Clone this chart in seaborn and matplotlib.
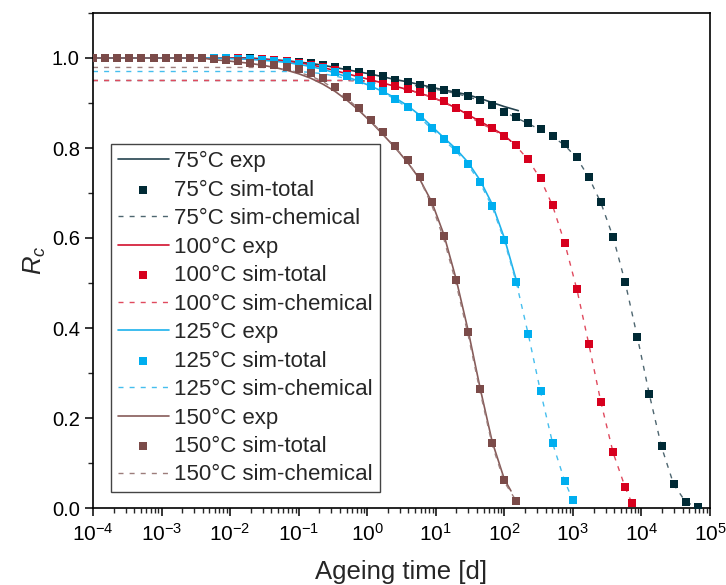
import numpy as np
import pandas as pd
import matplotlib
matplotlib.use("Agg")
import matplotlib.pyplot as plt
from matplotlib.ticker import MultipleLocator, FormatStrFormatter, LogLocator, NullFormatter
import seaborn as sns

# ---- ageing-time grid shared by the simulations [d] ----
t_grid = [1.00e-4, 1.50e-4, 2.25e-4, 3.38e-4, 5.08e-4, 7.63e-4,
          1.15e-3, 1.72e-3, 2.58e-3, 3.88e-3, 5.82e-3, 8.74e-3,
          1.31e-2, 1.97e-2, 2.96e-2, 4.44e-2, 6.66e-2,
          0.100, 0.150, 0.225, 0.338, 0.508, 0.763,
          1.15, 1.72, 2.58, 3.88, 5.82, 8.74,
          13.1, 19.7, 29.6, 44.4, 66.6,
          100, 150, 225, 338, 508, 763,
          1150, 1720, 2580, 3880, 5820, 8740,
          13100, 19700, 29600, 44400, 66600]

# ---- 75 °C ----
exp_75 = [1.000] * 14 + [0.998, 0.996, 0.994, 0.991, 0.988, 0.984, 0.979, 0.974, 0.969, 0.964,
                         0.958, 0.952, 0.947, 0.941, 0.935, 0.929, 0.924, 0.918, 0.910, 0.901, 0.892]
exp_75_end = (160, 0.883)
total_75 = [1.000] * 14 + [0.998, 0.996, 0.994, 0.991, 0.988, 0.984, 0.980, 0.973, 0.969, 0.964,
                           0.959, 0.951, 0.947, 0.941, 0.934, 0.929, 0.923, 0.916, 0.907, 0.895,
                           0.881, 0.868, 0.855, 0.842, 0.827, 0.808, 0.779, 0.736, 0.679, 0.603,
                           0.502, 0.381, 0.253, 0.137, 0.053, 0.013, 0.002]
chem_75 = [0.950] * 23 + [0.949, 0.947, 0.944, 0.941, 0.937, 0.932, 0.927, 0.921, 0.914, 0.905,
                          0.894, 0.880, 0.867, 0.854, 0.840, 0.825, 0.806, 0.777, 0.734, 0.677,
                          0.601, 0.500, 0.379, 0.251, 0.135, 0.052, 0.013, 0.002]

# ---- 100 °C ----
exp_100 = [1.000] * 13 + [0.998, 0.997, 0.995, 0.993, 0.990, 0.985, 0.979, 0.972, 0.965, 0.958,
                          0.951, 0.944, 0.937, 0.930, 0.922, 0.913, 0.902, 0.889, 0.874, 0.859,
                          0.844, 0.828]
exp_100_end = (125, 0.815)
total_100 = [1.000] * 13 + [0.998, 0.997, 0.995, 0.993, 0.990, 0.985, 0.980, 0.973, 0.965, 0.958,
                            0.951, 0.943, 0.937, 0.931, 0.924, 0.915, 0.904, 0.889, 0.874, 0.857,
                            0.844, 0.827, 0.806, 0.775, 0.733, 0.673, 0.590, 0.486, 0.364, 0.235,
                            0.124, 0.046]
total_100_end = (7200, 0.012)
chem_100 = [0.950] * 22 + [0.949, 0.946, 0.941, 0.935, 0.929, 0.922, 0.913, 0.902, 0.887, 0.872,
                           0.855, 0.842, 0.825, 0.804, 0.773, 0.731, 0.671, 0.588, 0.484, 0.362,
                           0.233, 0.122, 0.045]
chem_100_end = (7200, 0.012)

# ---- 125 °C ----
exp_125 = [1.000] * 11 + [0.999, 0.998, 0.997, 0.995, 0.993, 0.990, 0.986, 0.981, 0.975, 0.967,
                          0.958, 0.948, 0.937, 0.925, 0.911, 0.894, 0.873, 0.848, 0.823, 0.798,
                          0.768, 0.728, 0.675, 0.600]
exp_125_end = (160, 0.490)
total_125 = [1.000] * 11 + [0.999, 0.998, 0.997, 0.996, 0.993, 0.991, 0.987, 0.983, 0.977, 0.970,
                            0.960, 0.951, 0.938, 0.926, 0.910, 0.891, 0.870, 0.844, 0.820, 0.795,
                            0.765, 0.724, 0.671, 0.596, 0.502, 0.386, 0.260, 0.145, 0.060]
total_125_end = (1000, 0.018)
chem_125 = [0.970] * 18 + [0.968, 0.965, 0.960, 0.954, 0.946, 0.935, 0.923, 0.908, 0.889, 0.868,
                           0.842, 0.818, 0.793, 0.763, 0.722, 0.669, 0.594, 0.500, 0.384, 0.258,
                           0.143, 0.059]
chem_125_end = (1000, 0.017)

# ---- 150 °C ----
exp_150 = [1.000] * 10 + [0.996, 0.994, 0.991, 0.988, 0.984, 0.979, 0.973, 0.965, 0.955, 0.942,
                          0.926, 0.906, 0.883, 0.857, 0.829, 0.800, 0.768, 0.731, 0.680, 0.608,
                          0.510, 0.395, 0.266, 0.147, 0.064]
exp_150_end = (125, 0.038)
total_150 = [1.000] * 10 + [0.997, 0.995, 0.993, 0.990, 0.987, 0.984, 0.981, 0.976, 0.967, 0.955,
                            0.935, 0.914, 0.890, 0.862, 0.835, 0.805, 0.773, 0.736, 0.679, 0.605,
                            0.507, 0.392, 0.264, 0.145, 0.062, 0.016]
chem_150 = [0.979] * 15 + [0.977, 0.973, 0.968, 0.960, 0.948, 0.930, 0.910, 0.886, 0.858, 0.831,
                           0.801, 0.769, 0.731, 0.673, 0.598, 0.500, 0.385, 0.258, 0.140, 0.058,
                           0.015]

temperatures = ["75°C", "100°C", "125°C", "150°C"]
marker_colors = ["#002A35", "#D7001E", "#00AEEF", "#7B4B49"]
exp_colors = ["#25434F", "#D2102E", "#1DB2EC", "#865B59"]
chem_colors = ["#4E6670", "#E04A5E", "#45BEEE", "#9C7D7B"]


def series(values, end=None):
    t = list(t_grid[:len(values)])
    v = list(values)
    if end is not None:
        t.append(end[0])
        v.append(end[1])
    return pd.DataFrame({"t": t, "Rc": v})


exp_sets = [series(exp_75, exp_75_end), series(exp_100, exp_100_end),
            series(exp_125, exp_125_end), series(exp_150, exp_150_end)]
total_sets = [series(total_75), series(total_100, total_100_end),
              series(total_125, total_125_end), series(total_150)]
chem_sets = [series(chem_75), series(chem_100, chem_100_end),
             series(chem_125, chem_125_end), series(chem_150)]

sns.set_theme(style="ticks")
plt.rcParams["font.family"] = ["Liberation Sans", "DejaVu Sans"]
plt.rcParams["mathtext.fontset"] = "custom"
plt.rcParams["mathtext.rm"] = "Liberation Sans"
plt.rcParams["mathtext.it"] = "Liberation Sans:italic"
plt.rcParams["axes.unicode_minus"] = False

fig = plt.figure(figsize=(7.26, 5.85), dpi=100)
ax = fig.add_axes([93 / 726, 1 - 508 / 585, 617 / 726, 495 / 585])

handles, labels = [], []
for i, temp in enumerate(temperatures):
    sns.lineplot(data=exp_sets[i], x="t", y="Rc", ax=ax, color=exp_colors[i],
                 linewidth=1.2, estimator=None, sort=False, zorder=2)
    h_exp = ax.lines[-1]
    sns.scatterplot(data=total_sets[i], x="t", y="Rc", ax=ax, color=marker_colors[i],
                    marker="s", s=27, linewidth=0, zorder=3 + i)
    h_tot = ax.collections[-1]
    sns.lineplot(data=chem_sets[i], x="t", y="Rc", ax=ax, color=chem_colors[i],
                 linewidth=1.0, estimator=None, sort=False, zorder=2)
    h_chem = ax.lines[-1]
    h_chem.set_linestyle((0, (3.6, 4.4)))
    handles += [h_exp, h_tot, h_chem]
    labels += [f"{temp} exp", f"{temp} sim-total", f"{temp} sim-chemical"]

ax.set_xscale("log")
ax.set_xlim(1e-4, 1e5)
ax.set_ylim(0, 1.1)
ax.xaxis.set_major_locator(LogLocator(base=10, numticks=20))
ax.xaxis.set_minor_locator(LogLocator(base=10, subs=np.arange(2, 10), numticks=20))
ax.xaxis.set_minor_formatter(NullFormatter())
ax.yaxis.set_major_locator(MultipleLocator(0.2))
ax.yaxis.set_minor_locator(MultipleLocator(0.1))
ax.yaxis.set_major_formatter(FormatStrFormatter("%.1f"))

for side in ["left", "right", "top", "bottom"]:
    ax.spines[side].set_visible(True)
    ax.spines[side].set_color("black")
    ax.spines[side].set_linewidth(1.2)

ax.tick_params(axis="both", which="major", direction="out", length=6, width=1.1,
               colors="black", top=False, right=False)
ax.tick_params(axis="both", which="minor", direction="out", length=3.5, width=1.0,
               top=False, right=False)
ax.tick_params(axis="x", which="major", labelsize=15, pad=5)
ax.tick_params(axis="y", which="major", labelsize=14.5)

ax.set_xlabel("Ageing time [d]", fontsize=18.5, labelpad=11)
ax.set_ylabel("$R_c$", fontsize=18.5, labelpad=3)

leg = ax.legend(handles, labels, loc="lower left", bbox_to_anchor=(0.029, 0.032),
                borderaxespad=0, fontsize=16, frameon=True, fancybox=False,
                edgecolor="#444444", framealpha=1, handlelength=2.3,
                handletextpad=0.25, labelspacing=0.335, borderpad=0.3, scatterpoints=1)
leg.get_frame().set_linewidth(1.0)

fig.savefig("out.png", dpi=100)
